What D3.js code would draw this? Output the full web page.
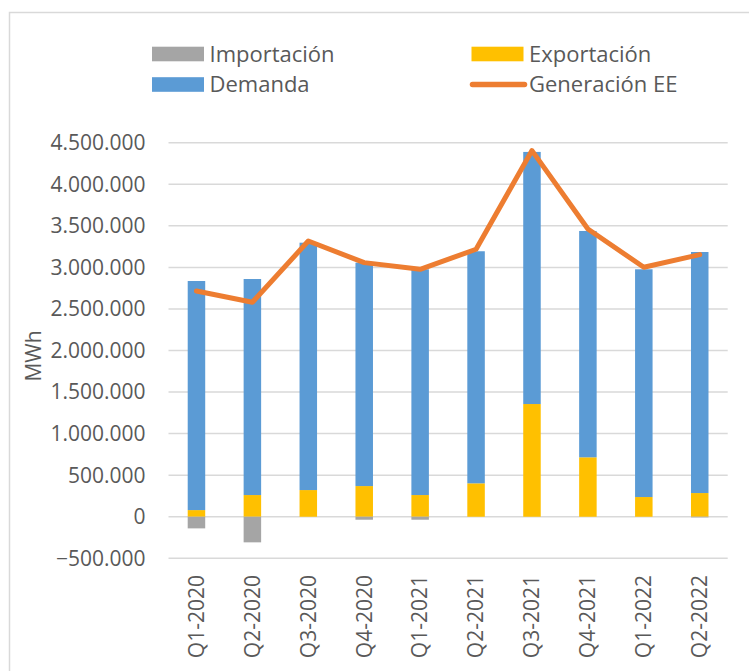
<!DOCTYPE html>
<html>
<head>
<meta charset="utf-8">
<script src="https://cdn.jsdelivr.net/npm/d3@7"></script>
<style>
  body { margin: 0; background: #fff; }
  svg { display: block; font-family: "Open Sans", sans-serif; }
</style>
</head>
<body>
<svg id="chart" width="749" height="671"></svg>
<script>
// datos
const trimestres = ["Q1-2020", "Q2-2020", "Q3-2020", "Q4-2020", "Q1-2021",
  "Q2-2021", "Q3-2021", "Q4-2021", "Q1-2022", "Q2-2022"];
const exportacion = [80000, 261000, 321000, 369000, 261000, 402000, 1356000, 715000, 237000, 285000];
const demanda = [2756000, 2599000, 2976000, 2688000, 2716000, 2792000, 3033000, 2723000, 2740000, 2900000];
const importacion = [-140000, -308000, 0, -36000, -36000, 0, 0, 0, 0, -8000];
const generacion = [2716000, 2580000, 3317000, 3057000, 2977000, 3218000, 4405000, 3462000, 3001000, 3153000];
const yTicks = [-500000, 0, 500000, 1000000, 1500000, 2000000, 2500000, 3000000, 3500000, 4000000, 4500000];

const colores = {
  "Importación": "#a5a5a5",
  "Exportación": "#ffc000",
  "Demanda": "#5b9bd5",
  "Generación EE": "#ed7d31"
};

const svg = d3.select("#chart");

// marco
svg.append("rect")
  .attr("x", 9.5).attr("y", 12.5)
  .attr("width", 760).attr("height", 700)
  .attr("fill", "none")
  .attr("stroke", "#d9d9d9")
  .attr("stroke-width", 1.5);

const x = d3.scaleBand()
  .domain(trimestres)
  .range([168.5, 727.7])
  .paddingInner(0.687)
  .paddingOuter(0.3435);

const y = d3.scaleLinear()
  .domain([-500000, 4500000])
  .range([558.3, 142.7]);

const fmt = d3.formatLocale({ decimal: ",", thousands: ".", grouping: [3], currency: ["", ""] }).format(",d");

// rejilla
svg.append("g")
  .selectAll("line")
  .data(yTicks)
  .enter().append("line")
  .attr("x1", 168.5).attr("x2", 727.7)
  .attr("y1", d => y(d)).attr("y2", d => y(d))
  .attr("stroke", "#d9d9d9")
  .attr("stroke-width", 1.5);

// etiquetas eje y
svg.append("g")
  .selectAll("text")
  .data(yTicks)
  .enter().append("text")
  .attr("x", 145.5)
  .attr("y", d => y(d))
  .attr("dy", "0.35em")
  .attr("text-anchor", "end")
  .attr("font-size", 21)
  .attr("fill", "#595959")
  .text(d => fmt(d));

svg.append("text")
  .attr("transform", "translate(41,356) rotate(-90)")
  .attr("text-anchor", "middle")
  .attr("font-size", 21)
  .attr("fill", "#595959")
  .text("MWh");

// barras apiladas
const filas = trimestres.map((t, i) => ({
  t: t,
  "Exportación": exportacion[i],
  "Demanda": demanda[i],
  "Importación": importacion[i]
}));

const stack = d3.stack()
  .keys(["Exportación", "Demanda", "Importación"])
  .offset(d3.stackOffsetDiverging);

const series = stack(filas);

svg.append("g")
  .selectAll("g")
  .data(series)
  .enter().append("g")
  .attr("fill", d => colores[d.key])
  .selectAll("rect")
  .data(d => d)
  .enter().append("rect")
  .attr("x", d => x(d.data.t))
  .attr("width", x.bandwidth())
  .attr("y", d => y(Math.max(d[0], d[1])))
  .attr("height", d => Math.abs(y(d[0]) - y(d[1])));

// linea generacion
const linea = d3.line()
  .x((d, i) => x(trimestres[i]) + x.bandwidth() / 2)
  .y(d => y(d));

svg.append("path")
  .datum(generacion)
  .attr("d", linea)
  .attr("fill", "none")
  .attr("stroke", colores["Generación EE"])
  .attr("stroke-width", 5)
  .attr("stroke-linejoin", "round")
  .attr("stroke-linecap", "round");

// etiquetas eje x
svg.append("g")
  .selectAll("text")
  .data(trimestres)
  .enter().append("text")
  .attr("transform", d => "translate(" + (x(d) + x.bandwidth() / 2) + ",575) rotate(-90)")
  .attr("dy", "0.35em")
  .attr("text-anchor", "end")
  .attr("font-size", 21)
  .attr("fill", "#595959")
  .text(d => d);

// leyenda
const leyenda = [
  { nombre: "Importación", x: 152, y: 54, tipo: "rect" },
  { nombre: "Exportación", x: 471.5, y: 54, tipo: "rect" },
  { nombre: "Demanda", x: 152, y: 84.5, tipo: "rect" },
  { nombre: "Generación EE", x: 471.5, y: 84.5, tipo: "line" }
];

const items = svg.append("g")
  .selectAll("g")
  .data(leyenda)
  .enter().append("g")
  .attr("transform", d => "translate(" + d.x + "," + d.y + ")");

items.filter(d => d.tipo === "rect").append("rect")
  .attr("x", 0).attr("y", -7.3)
  .attr("width", 52).attr("height", 14.6)
  .attr("fill", d => colores[d.nombre]);

items.filter(d => d.tipo === "line").append("line")
  .attr("x1", 1).attr("x2", 53)
  .attr("stroke", d => colores[d.nombre])
  .attr("stroke-width", 5.5)
  .attr("stroke-linecap", "round");

items.append("text")
  .attr("x", 57.5)
  .attr("dy", "0.35em")
  .attr("font-size", 22)
  .attr("fill", "#595959")
  .text(d => d.nombre);
</script>
</body>
</html>
